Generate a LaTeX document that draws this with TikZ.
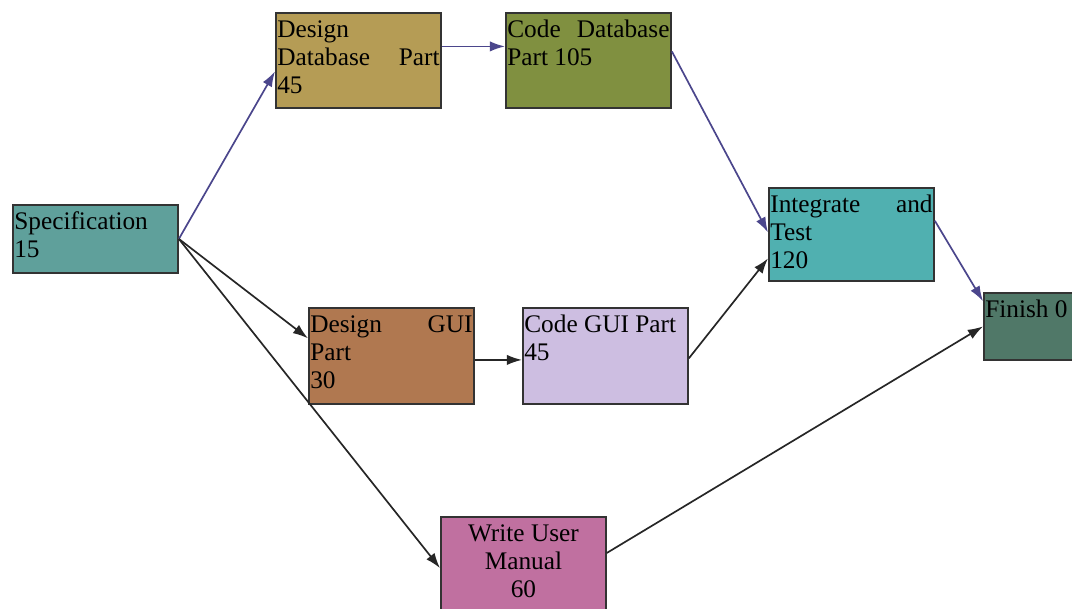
\documentclass[tikz,border=0pt]{standalone}
\usepackage{fontspec}
\setmainfont{Liberation Serif}
\usetikzlibrary{arrows.meta,positioning,calc}
\definecolor{specfill}{RGB}{95,160,155}
\definecolor{ddbfill}{RGB}{181,156,85}
\definecolor{cdbfill}{RGB}{128,144,64}
\definecolor{dguifill}{RGB}{176,120,80}
\definecolor{cguifill}{RGB}{205,190,225}
\definecolor{intfill}{RGB}{80,176,176}
\definecolor{finfill}{RGB}{80,120,104}
\definecolor{manfill}{RGB}{192,112,160}
\definecolor{critblue}{RGB}{75,70,140}
\tikzset{
	task/.style = {draw=black!80, line width=1.3pt, anchor=north west, inner xsep=1pt, inner ysep=3.5pt, font=\fontsize{18}{20}\selectfont}, % box of one task
	flow/.style = {-{Latex[length=3.8mm,width=2.6mm]}, line width=1.2pt, draw=black!85},
	critical/.style = {flow, draw=critblue} % edges of the critical path
}
% parbox of the task text, width and height of the whole box
\newcommand{\tasktext}[3]{\parbox[t][\dimexpr#2-7pt\relax][t]{\dimexpr#1-2pt\relax}{\strut#3}}

\begin{document}
\begin{tikzpicture}[x=0.025cm,y=-0.025cm]
            \fill[white] (0,0) rectangle (1072,609);
            \useasboundingbox (0,0) rectangle (1072,609);
            \node[task, fill=specfill] (spec) at (12,204) {\tasktext{4.125cm}{1.7cm}{Specification\\15}};
            \node[task, fill=ddbfill] (ddb) at (275,12) {\tasktext{4.125cm}{2.375cm}{Design\\Database\hfill Part\\45}};
            \node[task, fill=cdbfill] (cdb) at (505,12) {\tasktext{4.125cm}{2.375cm}{Code\hfill Database\\Part 105}};
            \node[task, fill=dguifill] (dgui) at (308,307) {\tasktext{4.125cm}{2.4cm}{Design\hfill GUI\\Part\\30}};
            \node[task, fill=cguifill] (cgui) at (522,307) {\tasktext{4.125cm}{2.4cm}{Code GUI Part\\45}};
            \node[task, fill=intfill] (integ) at (768,187) {\tasktext{4.125cm}{2.325cm}{Integrate\hfill and\\Test\\120}};
            \node[task, fill=finfill] (fin) at (983,292) {\tasktext{4.125cm}{1.675cm}{Finish 0}};
            \node[task, fill=manfill] (man) at (440,516) {\tasktext{4.125cm}{2.5cm}{\centering Write User\\Manual\\60}};
            % critical path
            \draw[critical] (spec.east) -- ([yshift=-0.275cm]ddb.west);
            \draw[critical] ([yshift=0.35cm]ddb.east) -- ([yshift=0.35cm]cdb.west);
            \draw[critical] ([yshift=0.225cm]cdb.east) -- ([yshift=0.05cm]integ.west);
            \draw[critical] ([yshift=0.34cm]integ.east) -- ([yshift=0.63cm]fin.west);
            % other edges
            \draw[flow] (spec.east) -- ([yshift=0.44cm]dgui.west);
            \draw[flow] (spec.east) -- ([yshift=-0.03cm]man.west);
            \draw[flow] ([yshift=-0.1cm]dgui.east) -- ([yshift=-0.1cm]cgui.west);
            \draw[flow] ([yshift=-0.06cm]cgui.east) -- ([yshift=-0.6cm]integ.west);
            \draw[flow] ([yshift=0.35cm]man.east) -- (fin.west);
        \end{tikzpicture}
\end{document}
